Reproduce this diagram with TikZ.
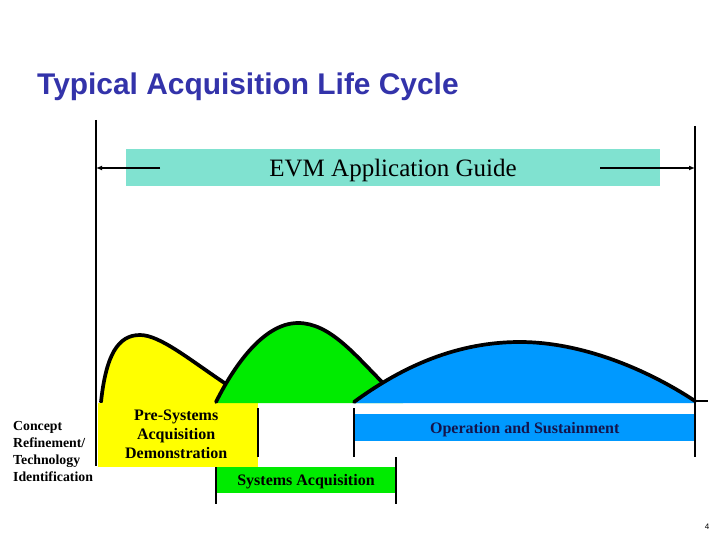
\documentclass[tikz,border=0pt]{standalone}
\usepackage{fontspec}
\setmainfont{Liberation Serif}
\newfontfamily\arialfont{Liberation Sans}
\usetikzlibrary{arrows.meta}
\definecolor{titleblue}{RGB}{51,51,170}
\definecolor{evmteal}{RGB}{128,226,208}
\definecolor{hyellow}{RGB}{255,255,0}
\definecolor{hgreen}{RGB}{0,235,0}
\definecolor{hblue}{RGB}{0,153,255}
\definecolor{navytext}{RGB}{20,20,75}
\tikzset{
  hump/.style={line width=3.7pt, line cap=round, line join=round},
  vline/.style={line width=2pt},
  tickline/.style={line width=1.8pt},
  phasebox/.style={inner sep=0pt, outer sep=0pt, draw=none},
  lbl/.style={font=\fontsize{16}{19}\selectfont\bfseries, inner sep=0pt},
  sidelbl/.style={font=\fontsize{13.8}{17}\selectfont\bfseries, inner sep=0pt, anchor=base west},
  guidearrow/.style={line width=1.4pt, -{Latex[length=6pt,width=5pt]}},
}
\begin{document}
\begin{tikzpicture}[x=1pt,y=-1pt]
\useasboundingbox[fill=white] (0,0) rectangle (720,540);

% title
\node[anchor=base west, inner sep=0pt, text=titleblue,
      font=\arialfont\bfseries\fontsize{29.9}{36}\selectfont] (title) at (37,94.3)
      {Typical Acquisition Life Cycle};

% EVM guide band
\node[phasebox, fill=evmteal, minimum width=534pt, minimum height=37pt,
      text height=19pt, text depth=0pt, font=\fontsize{25}{30}\selectfont]
      (evm) at (393,167.5) {EVM Application Guide};
\coordinate (lstart) at (160,168);
\coordinate (lend) at (96,168);
\coordinate (rstart) at (600,168);
\coordinate (rend) at (695,168);
\draw[guidearrow] (lstart) -- (lend);
\draw[guidearrow] (rstart) -- (rend);

% yellow hump
\fill[hyellow] (101,404) -- (101,402) .. controls (106,355) and (118,335) .. (140,335)
   .. controls (160,335) and (190,360) .. (226,384) -- (245,404) -- cycle;
\draw[hump] (101,402) .. controls (106,355) and (118,335) .. (140,335)
   .. controls (160,335) and (190,360) .. (226,384);
\node[phasebox, fill=hyellow, minimum width=160.5pt, minimum height=64pt] (predemo) at (177.75,435) {};

% green hump
\fill[hgreen] (216,403) -- (216,402) .. controls (232,370) and (262,323) .. (298,323)
   .. controls (330,323) and (355,355) .. (384,384) -- (403,403) -- cycle;
\draw[hump] (216,402) .. controls (232,370) and (262,323) .. (298,323)
   .. controls (330,323) and (355,355) .. (384,384);

% blue hump
\fill[hblue] (354,403) -- (354,402) .. controls (395,372) and (450,342) .. (520,342)
   .. controls (580,342) and (645,368) .. (695,401) -- (695,403) -- cycle;
\draw[hump] (354,402) .. controls (395,372) and (450,342) .. (520,342)
   .. controls (580,342) and (645,368) .. (695,401);

% phase bars
\node[phasebox, fill=hblue, minimum width=341.5pt, minimum height=27pt,
      text height=11.8pt, text depth=0pt, text=navytext, lbl]
      (ops) at (524.75,427.5) {Operation and Sustainment};
\node[phasebox, fill=hgreen, minimum width=180pt, minimum height=26pt,
      text height=10pt, text depth=0pt, lbl]
      (sysacq) at (306,480) {Systems Acquisition};

% Pre-systems label
\node[lbl, anchor=base] (pre1) at (176.2,420.7) {Pre-Systems};
\node[lbl, anchor=base] (pre2) at (176.2,439.4) {Acquisition};
\node[lbl, anchor=base] (pre3) at (176.2,458.2) {Demonstration};

% side label
\node[sidelbl] (cr1) at (13,430.5) {Concept};
\node[sidelbl] (cr2) at (13,447.5) {Refinement/};
\node[sidelbl] (cr3) at (13,464.5) {Technology};
\node[sidelbl] (cr4) at (13,481.5) {Identification};

% frame lines
\coordinate (ltop) at (96,120);
\coordinate (lbot) at (96,466);
\coordinate (rtop) at (695,126);
\coordinate (rbot) at (695,457);
\draw[vline] (ltop) -- (lbot);
\draw[vline] (rtop) -- (rbot);

% ticks
\draw[tickline] (258,408) -- (258,457);
\draw[tickline] (354,408) -- (354,457);
\draw[tickline] (216,467) -- (216,504);
\draw[tickline] (396,457) -- (396,504);
\draw[tickline] (695,401) -- (708,401);

% page number
\node[inner sep=0pt, font=\arialfont\fontsize{8}{9}\selectfont] (pnum) at (707,527) {4};
\end{tikzpicture}
\end{document}
